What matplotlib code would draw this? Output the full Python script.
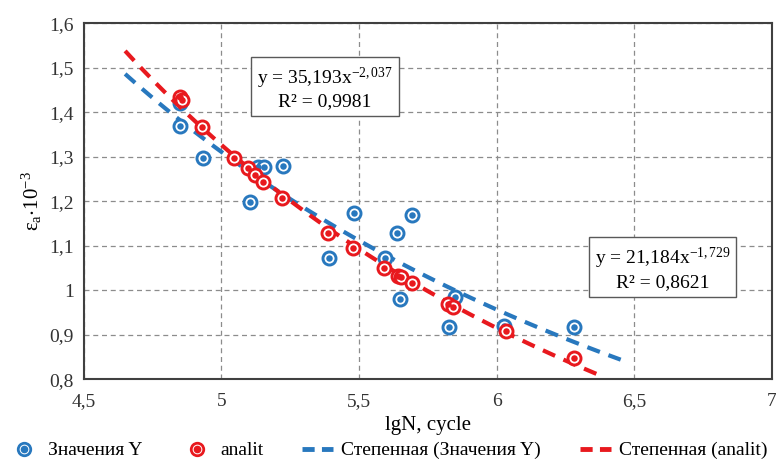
import numpy as np
import matplotlib
matplotlib.use('Agg')
import matplotlib.pyplot as plt
from matplotlib.lines import Line2D
from matplotlib.legend_handler import HandlerTuple
from matplotlib.ticker import FuncFormatter

plt.rcParams['font.family'] = ['Liberation Serif', 'DejaVu Serif']
plt.rcParams['mathtext.fontset'] = 'custom'
plt.rcParams['mathtext.rm'] = 'Liberation Serif'
plt.rcParams['mathtext.it'] = 'Liberation Serif:italic'

# Значения Y
x_y = [4.849, 4.849, 4.933, 5.104, 5.133, 5.155, 5.224, 5.482, 5.391, 5.595,
       5.638, 5.693, 5.649, 5.849, 5.827, 6.027, 6.282]
y_y = [1.420, 1.369, 1.297, 1.198, 1.276, 1.276, 1.279, 1.173, 1.072, 1.072,
       1.128, 1.169, 0.980, 0.984, 0.917, 0.919, 0.917]

# analit
x_a = [4.849, 4.855, 4.929, 5.045, 5.096, 5.122, 5.151, 5.220, 5.387, 5.478,
       5.591, 5.640, 5.653, 5.693, 5.824, 5.842, 6.035, 6.282]
y_a = [1.434, 1.427, 1.367, 1.297, 1.274, 1.258, 1.243, 1.207, 1.128, 1.094,
       1.049, 1.031, 1.029, 1.016, 0.969, 0.962, 0.908, 0.847]

# степенные тренды (коэффициенты из подписей)
k_y, p_y = 21.184, -1.729
k_a, p_a = 35.193, -2.037

azul = '#2878BE'
rojo = '#E8191E'

fig = plt.figure(figsize=(7.76, 4.63), dpi=100)
ax = fig.add_axes([0.108, 0.181, 0.887, 0.769])

xt_y = np.linspace(4.65, 6.45, 100)
xt_a = np.linspace(4.65, 6.37, 100)
ax.plot(xt_y, k_y * xt_y ** p_y, color=azul, lw=3, dashes=(3.2, 2.2), zorder=3)

def pontos(xs, ys, cor, z):
    ax.scatter(xs, ys, s=88, facecolor='white', edgecolor=cor, linewidth=2.1, zorder=z)
    ax.scatter(xs, ys, s=22, color=cor, linewidth=0, zorder=z)

pontos(x_y, y_y, azul, 4)
ax.plot(xt_a, k_a * xt_a ** p_a, color=rojo, lw=3, dashes=(3.2, 2.2), zorder=5)
pontos(x_a, y_a, rojo, 6)

ax.set_xlim(4.5, 7)
ax.set_ylim(0.8, 1.6)
ax.set_xticks(np.arange(4.5, 7.01, 0.5))
ax.set_yticks(np.arange(0.8, 1.601, 0.1))
fmt = FuncFormatter(lambda v, p: ('%g' % round(v, 2)).replace('.', ','))
ax.xaxis.set_major_formatter(fmt)
ax.yaxis.set_major_formatter(fmt)
ax.tick_params(length=0, labelsize=14, colors='#333333')
ax.tick_params(axis='x', pad=10)
ax.tick_params(axis='y', pad=7)
ax.grid(True, linestyle=(0, (4, 3)), color='#8c8c8c', linewidth=0.9)
ax.set_axisbelow(True)
for s in ax.spines.values():
    s.set_color('#404040')
    s.set_linewidth(1.5)

ax.set_xlabel('lgN, cycle', fontsize=15, labelpad=4)
ax.set_ylabel(r'$\mathregular{\varepsilon_a{\cdot}10^{-3}}$', fontsize=15, labelpad=4)

bbox = dict(boxstyle='square,pad=0.3', facecolor='white', edgecolor='#595959', linewidth=1)
ax.text(5.376, 1.454, 'y = 35,193x$^{\\mathregular{-2,037}}$\nR² = 0,9981', fontsize=14,
        ha='center', va='center', bbox=bbox, zorder=7, linespacing=1.2)
ax.text(6.602, 1.049, 'y = 21,184x$^{\\mathregular{-1,729}}$\nR² = 0,8621', fontsize=14,
        ha='center', va='center', bbox=bbox, zorder=7, linespacing=1.2)

def marcador(cor):
    m1 = Line2D([], [], ls='none', marker='o', markersize=9, markerfacecolor='white',
                markeredgecolor=cor, markeredgewidth=2)
    m2 = Line2D([], [], ls='none', marker='o', markersize=4.5, color=cor)
    return (m1, m2)

handles = [marcador(azul), marcador(rojo),
           Line2D([], [], color=azul, lw=3.5, dashes=(2.5, 1.5)),
           Line2D([], [], color=rojo, lw=3.5, dashes=(2.5, 1.5))]
labels = ['Значения Y', 'analit', 'Степенная (Значения Y)', 'Степенная (analit)']
fig.legend(handles, labels, loc='lower center', bbox_to_anchor=(0.5, -0.03), ncol=4,
           frameon=False, fontsize=14, handlelength=1.6, columnspacing=2.0, handletextpad=0.4,
           handler_map={tuple: HandlerTuple(ndivide=1, pad=0)})

fig.savefig('out.png', dpi=100)
